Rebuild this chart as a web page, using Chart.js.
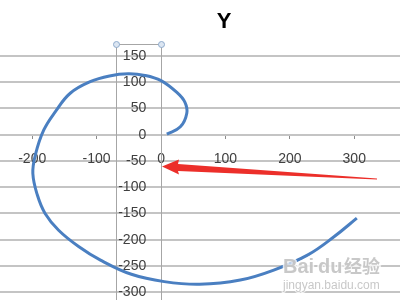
<!DOCTYPE html>
<html lang="en">
<head>
    <meta charset="UTF-8">
    <title>Y</title>
    <script src="https://cdn.jsdelivr.net/npm/chart.js"></script>
    <style>
        body { margin: 0; padding: 0; background: #ffffff; }
        #wrap { width: 400px; height: 300px; position: relative; }
    </style>
</head>
<body>
    <div id="wrap"><canvas id="spiral"></canvas></div>
    <script>
        // values, in drawing order
        var xValues = [9, 30, 40, 37, 25, 0, -25, -51, -80, -110, -141, -164, -182, -195, -199, -192, -180, -159, -128, -94, -46, 5, 60, 123, 175, 228, 269, 304];
        var yValues = [1, 15, 41, 62, 80, 103, 113, 116, 112, 101, 79, 44, 9, -38, -74, -115, -150, -182, -213, -239, -266, -280, -285, -277, -258, -229, -194, -159];
        var titleText = 'Y';

        var points = xValues.map(function (x, i) { return { x: x, y: yValues[i] }; });

        var labelColor = '#404040';
        var gridColor = '#c4c4c4';
        var axisColor = '#8c8c8c';

        // title, selection box, arrow and watermark drawn on top
        var extras = {
            id: 'extras',
            beforeDatasetsDraw: function (chart) {
                var ctx = chart.ctx;
                var xs = chart.scales.x;
                var area = chart.chartArea;
                var lx = Math.round(xs.getPixelForValue(-70)) + 0.5;
                var rx = Math.round(xs.getPixelForValue(0)) + 0.5;
                var top = area.top - 11.5;
                ctx.save();
                ctx.strokeStyle = '#a6a6a6';
                ctx.lineWidth = 1;
                ctx.beginPath();
                ctx.moveTo(lx, area.bottom);
                ctx.lineTo(lx, top);
                ctx.lineTo(rx, top);
                ctx.lineTo(rx, area.bottom);
                ctx.stroke();
                ctx.restore();
            },
            afterDraw: function (chart) {
                var ctx = chart.ctx;
                var xs = chart.scales.x;
                var area = chart.chartArea;
                var lx = Math.round(xs.getPixelForValue(-70)) + 0.5;
                var rx = Math.round(xs.getPixelForValue(0)) + 0.5;
                var top = area.top - 11.5;
                ctx.save();
                // handles
                [lx, rx].forEach(function (hx) {
                    ctx.beginPath();
                    ctx.arc(hx, top, 3, 0, Math.PI * 2);
                    ctx.fillStyle = '#dce6f2';
                    ctx.fill();
                    ctx.strokeStyle = '#8eaacc';
                    ctx.lineWidth = 1;
                    ctx.stroke();
                });
                // title
                ctx.fillStyle = '#000000';
                ctx.font = 'bold 22px "Liberation Sans", Arial, sans-serif';
                ctx.textAlign = 'center';
                ctx.textBaseline = 'alphabetic';
                ctx.fillText(titleText, 224, 28);
                // watermark
                ctx.font = 'bold 20px "Liberation Sans", Arial, sans-serif';
                ctx.textAlign = 'left';
                ctx.lineWidth = 3;
                ctx.strokeStyle = 'rgba(255,255,255,0.8)';
                ctx.fillStyle = 'rgba(190,190,190,0.85)';
                ctx.strokeText('Bai', 283, 273);
                ctx.fillText('Bai', 283, 273);
                ctx.strokeText('du', 318, 273);
                ctx.fillText('du', 318, 273);
                ctx.font = 'bold 18px "Noto Sans CJK SC", sans-serif';
                ctx.strokeText('经验', 344, 273);
                ctx.fillText('经验', 344, 273);
                ctx.font = '12px "Liberation Sans", Arial, sans-serif';
                ctx.lineWidth = 2;
                ctx.strokeText('jingyan.baidu.com', 283, 289);
                ctx.fillText('jingyan.baidu.com', 283, 289);
                // red arrow
                ctx.fillStyle = '#ec2f2a';
                ctx.beginPath();
                ctx.moveTo(377, 179.5);
                ctx.lineTo(178, 171);
                ctx.lineTo(179, 174.5);
                ctx.lineTo(162, 166.5);
                ctx.lineTo(179, 159.5);
                ctx.lineTo(178, 164);
                ctx.lineTo(377, 178.5);
                ctx.closePath();
                ctx.fill();
                ctx.restore();
            }
        };

        var ctx = document.getElementById('spiral').getContext('2d');
        var spiralChart = new Chart(ctx, {
            type: 'scatter',
            data: {
                datasets: [{
                    label: titleText,
                    data: points,
                    showLine: true,
                    borderColor: '#4a7fc1',
                    borderWidth: 3,
                    pointRadius: 0,
                    tension: 0.4,
                    fill: false
                }]
            },
            options: {
                responsive: true,
                maintainAspectRatio: false,
                animation: false,
                layout: { padding: { top: 56, left: 0, right: 0, bottom: 0 } },
                plugins: {
                    legend: { display: false },
                    title: { display: false },
                    tooltip: { enabled: false }
                },
                scales: {
                    x: {
                        type: 'linear',
                        position: { y: 0 },
                        min: -250,
                        max: 371,
                        afterFit: function (s) {
                            s.height = 0;
                            s.paddingLeft = 0;
                            s.paddingRight = 0;
                        },
                        border: { display: false },
                        grid: {
                            color: function (c) { return c.tick && c.tick.value === 0 ? axisColor : 'rgba(0,0,0,0)'; },
                            tickColor: axisColor,
                            tickLength: 4,
                            lineWidth: 1
                        },
                        ticks: {
                            stepSize: 100,
                            includeBounds: false,
                            padding: 12,
                            color: labelColor,
                            font: { family: '"Liberation Sans", Arial, sans-serif', size: 14 }
                        }
                    },
                    y: {
                        type: 'linear',
                        position: { x: -23 },
                        min: -315,
                        max: 150,
                        afterFit: function (s) {
                            s.width = 0;
                            s.paddingTop = 0;
                            s.paddingBottom = 0;
                        },
                        border: { display: false },
                        grid: {
                            color: gridColor,
                            lineWidth: 2,
                            drawTicks: false
                        },
                        ticks: {
                            stepSize: 50,
                            includeBounds: false,
                            padding: 0,
                            color: labelColor,
                            font: { family: '"Liberation Sans", Arial, sans-serif', size: 14 }
                        }
                    }
                }
            },
            plugins: [extras]
        });
    </script>
</body>
</html>
